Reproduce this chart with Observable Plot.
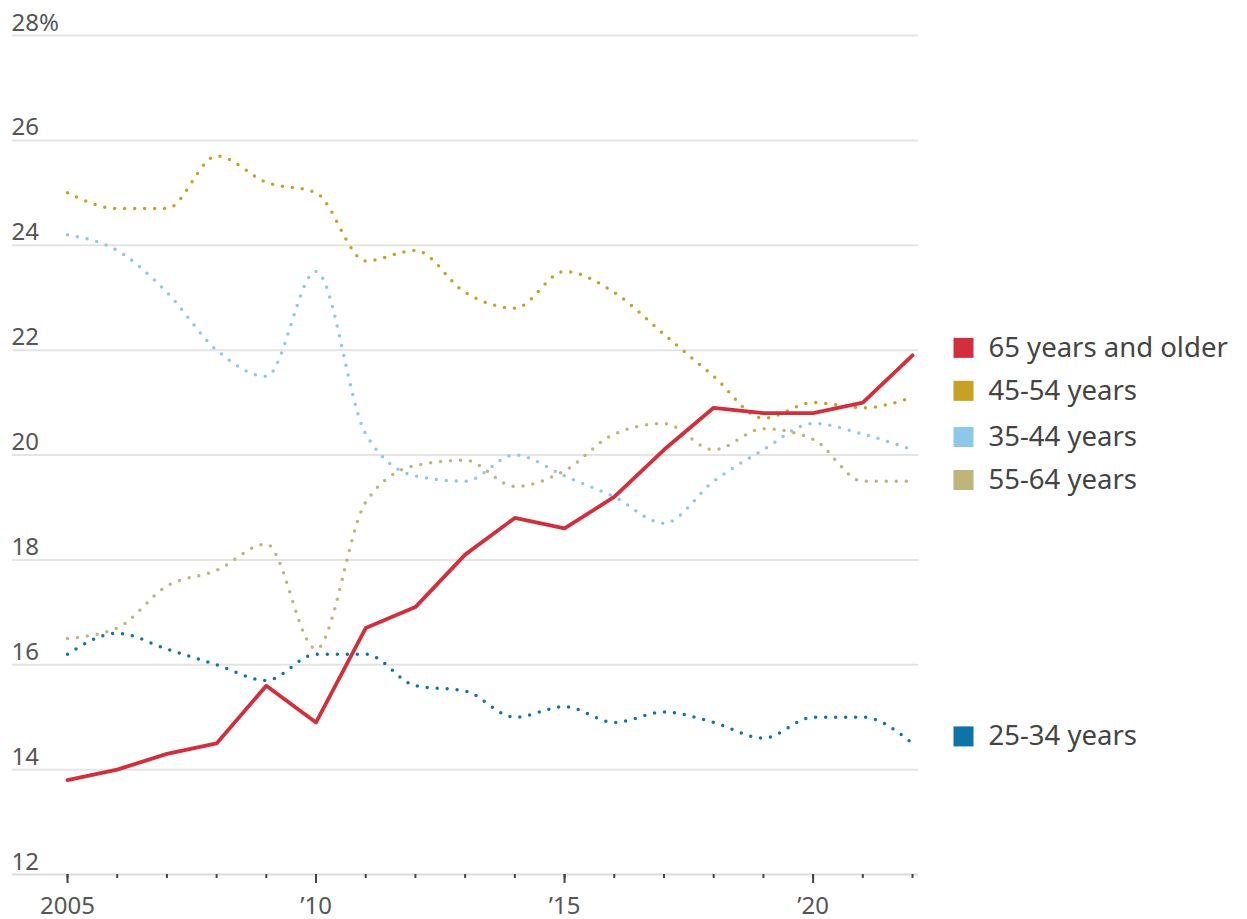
<!DOCTYPE html>
<html>
<head>
<meta charset="utf-8">
<script src="https://cdn.jsdelivr.net/npm/d3@7"></script>
<script src="https://cdn.jsdelivr.net/npm/@observablehq/plot@0.6"></script>
<style>
  html, body { margin: 0; padding: 0; background: #fff; }
  #chart { width: 1247px; height: 919px; }
</style>
</head>
<body>
<div id="chart"></div>
<script>
// ---- data ----
const years = [2005, 2006, 2007, 2008, 2009, 2010, 2011, 2012, 2013, 2014, 2015, 2016, 2017, 2018, 2019, 2020, 2021, 2022];
const older65 = [13.8, 14.0, 14.3, 14.5, 15.6, 14.9, 16.7, 17.1, 18.1, 18.8, 18.6, 19.2, 20.1, 20.9, 20.8, 20.8, 21.0, 21.9];
const age45to54 = [25.0, 24.7, 24.7, 25.7, 25.2, 25.0, 23.7, 23.9, 23.1, 22.8, 23.5, 23.1, 22.3, 21.5, 20.7, 21.0, 20.9, 21.1];
const age35to44 = [24.2, 23.9, 23.1, 22.0, 21.5, 23.5, 20.4, 19.6, 19.5, 20.0, 19.6, 19.2, 18.7, 19.5, 20.1, 20.6, 20.4, 20.1];
const age55to64 = [16.5, 16.7, 17.5, 17.8, 18.3, 16.3, 19.1, 19.8, 19.9, 19.4, 19.7, 20.4, 20.6, 20.1, 20.5, 20.3, 19.5, 19.5];
const age25to34 = [16.2, 16.6, 16.3, 16.0, 15.7, 16.2, 16.2, 15.6, 15.5, 15.0, 15.2, 14.9, 15.1, 14.9, 14.6, 15.0, 15.0, 14.5];
const seriesNames = ["65 years and older", "45-54 years", "35-44 years", "55-64 years", "25-34 years"];
const yTicks = [12, 14, 16, 18, 20, 22, 24, 26, 28];
const xLabelTicks = [2005, 2010, 2015, 2020];
const xLabels = ["2005", "\u201910", "\u201915", "\u201920"];

// ---- styles ----
const colors = ["#d12f3b", "#c6a126", "#8dc8ea", "#bdb57b", "#0e74a8"];
const dotted = [false, true, true, true, true];
const valuesBySeries = [older65, age45to54, age35to44, age55to64, age25to34];

const series = seriesNames.map((name, i) => ({
  name, color: colors[i], dotted: dotted[i],
  rows: years.map((year, j) => ({year, value: valuesBySeries[i][j], series: name}))
}));

// legend positions: start at last values, then dodge apart
const gap = 0.82;
const legend = series.map(s => ({name: s.name, color: s.color, y: s.rows[s.rows.length - 1].value}));
const order = legend.slice().sort((a, b) => b.y - a.y);
for (let iter = 0; iter < 50; iter++) {
  for (let k = 0; k < order.length - 1; k++) {
    const a = order[k], b = order[k + 1];
    const d = a.y - b.y;
    if (d < gap) { const p = (gap - d) / 2; a.y += p; b.y -= p; }
  }
}

const lineMarks = series.slice().reverse().map(s =>
  Plot.line(s.rows, {
    x: "year", y: "value",
    stroke: s.color,
    strokeWidth: s.dotted ? 3.5 : 3.8,
    strokeDasharray: s.dotted ? "0 10" : null,
    strokeLinecap: "round",
    strokeLinejoin: "round",
    curve: s.dotted ? "monotone-x" : "linear"
  })
);

const chart = Plot.plot({
  width: 1247,
  height: 919,
  marginLeft: 67,
  marginRight: 335,
  marginTop: 35,
  marginBottom: 45,
  x: {domain: [2005, 2022]},
  y: {domain: [12, 28]},
  style: {fontFamily: "'Noto Sans', 'Open Sans', sans-serif", fontSize: "24px", color: "#555", background: "#fff", overflow: "visible"},
  marks: [
    Plot.ruleY(yTicks.filter(d => d !== 12), {y: d => d, stroke: "#e4e4e4", strokeWidth: 2, insetLeft: -55, insetRight: -6}),
    Plot.ruleY([12], {y: d => d, stroke: "#dcdcdc", strokeWidth: 2, insetLeft: -55, insetRight: -6}),
    Plot.axisY({
      ticks: yTicks, tickSize: 0, tickPadding: 0, textAnchor: "start", dx: -56, dy: -5,
      lineAnchor: "bottom", fill: "#555", fontSize: 24,
      tickFormat: d => d === 28 ? "28%" : String(d), label: null
    }),
    Plot.axisX({ticks: years, tickSize: 4, tickFormat: () => "", stroke: "#444", strokeWidth: 2, label: null}),
    Plot.axisX({
      ticks: xLabelTicks, tickSize: 9, tickPadding: 13, stroke: "#444", strokeWidth: 2,
      fill: "#555", fontSize: 24, label: null,
      tickFormat: d => xLabels[xLabelTicks.indexOf(d)]
    }),
    ...lineMarks,
    Plot.dot(legend, {x: () => 2022, y: "y", dx: 51, dy: -7, symbol: "square", r: 11.3, fill: d => d.color, stroke: null}),
    Plot.text(legend, {x: () => 2022, y: "y", text: "name", dx: 76, dy: -7, textAnchor: "start", fill: "#444", fontSize: 27.5})
  ]
});

document.getElementById("chart").appendChild(chart);
</script>
</body>
</html>
